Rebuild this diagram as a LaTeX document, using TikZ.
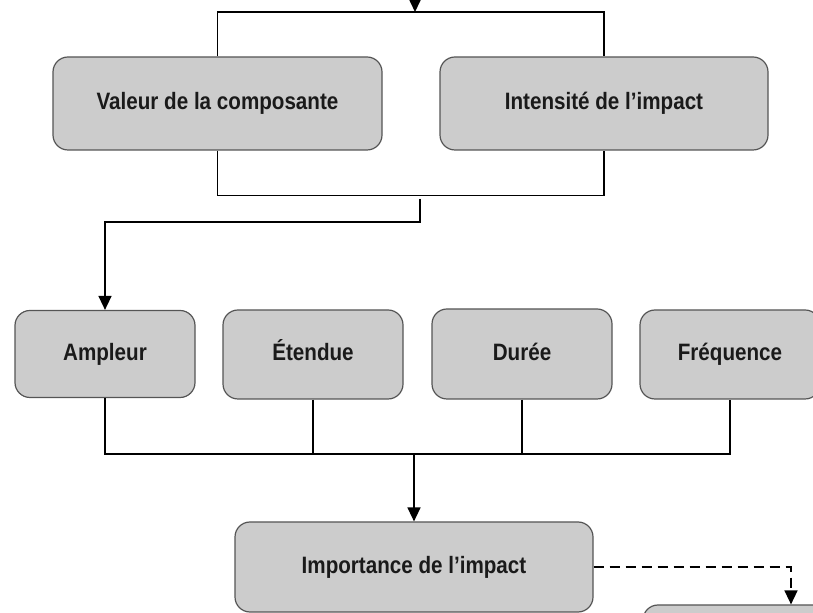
\documentclass[tikz,border=0pt]{standalone}
\usepackage{fontspec}
\setmainfont{Liberation Sans}[FakeStretch=0.87]
\usepackage{xcolor}
\usepackage{tikz}
\usetikzlibrary{arrows.meta, positioning, calc}
\definecolor{boxfill}{RGB}{204, 204, 204}
\definecolor{boxline}{RGB}{85, 85, 85}
\definecolor{textgray}{RGB}{26, 26, 26}

\begin{document}
\begin{tikzpicture}[x=0.5pt, y=-0.5pt,
    critbox/.style={rectangle, draw=boxline, fill=boxfill, line width=0.6pt, rounded corners=7.5pt, align=center, inner sep=0pt, text height=8.5pt, text depth=2pt, text=textgray, font=\fontsize{11.85}{14}\selectfont\bfseries},
    link/.style={line width=0.75pt, black},
    arrow/.style={link, -{Triangle[length=7pt, width=6.5pt]}},
    dasharrow/.style={arrow, dash pattern=on 5pt off 3pt}]

    \useasboundingbox (0,0) rectangle (813,613);
    \clip (0,0) rectangle (813,613);

    % Upper level
    \node[critbox, minimum width=164.5pt, minimum height=46.5pt] (valeur) at (217.5,103.5) {Valeur de la composante};
    \node[critbox, minimum width=164pt, minimum height=46.5pt] (intensite) at (604,103.5) {Intensité de l’impact};

    % Criteria
    \node[critbox, minimum width=90pt, minimum height=43.5pt] (ampleur) at (105,354) {Ampleur};
    \node[critbox, minimum width=90pt, minimum height=44.5pt] (etendue) at (313,354.5) {Étendue};
    \node[critbox, minimum width=90pt, minimum height=45pt] (duree) at (522,354) {Durée};
    \node[critbox, minimum width=90pt, minimum height=44.5pt] (frequence) at (730,354.5) {Fréquence};

    % Result
    \node[critbox, minimum width=179pt, minimum height=45pt] (importance) at (414,567) {Importance de l’impact};
    \node[critbox, minimum width=148pt, minimum height=45pt] (suite) at (791,650) {};

    % Joins
    \coordinate (topin) at (415,-20);
    \coordinate (topjoin) at (415,12);
    \coordinate (split) at (420,199);
    \coordinate (merge) at (414,454);

    % Links
    \draw[arrow] (topin) -- (topjoin);
    \draw[link] (valeur.north) |- (topjoin) -| (intensite.north);
    \draw[link] (valeur.south) -- ++(0,45) -| (intensite.south);
    \draw[arrow] (split) -- ++(0,23) -| (ampleur.north);
    \draw[link] (ampleur.south) |- (merge) -| (frequence.south);
    \draw[link] (etendue.south) -- (etendue.south |- merge);
    \draw[link] (duree.south) -- (duree.south |- merge);
    \draw[arrow] (merge) -- (importance.north);
    \draw[dasharrow] (importance.east) -| (suite.north);
\end{tikzpicture}
\end{document}
